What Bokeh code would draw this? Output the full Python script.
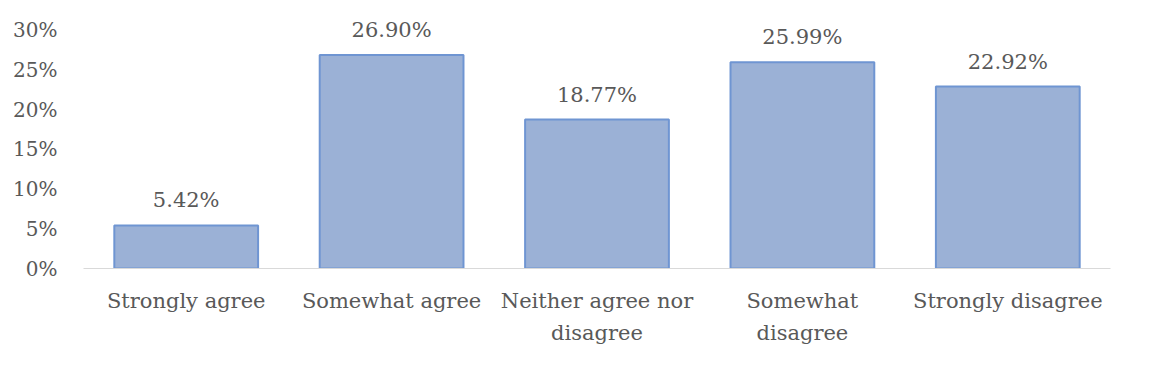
from bokeh.plotting import figure
from bokeh.models import ColumnDataSource, FixedTicker, Range1d
from bokeh.core.properties import value
from bokeh.embed import file_html
from bokeh.resources import INLINE

categories = ["Strongly agree", "Somewhat agree", "Neither agree nor\ndisagree",
              "Somewhat\ndisagree", "Strongly disagree"]
values = [5.42, 26.90, 18.77, 25.99, 22.92]
value_labels = ["5.42%", "26.90%", "18.77%", "25.99%", "22.92%"]
y_ticks = [0, 5, 10, 15, 20, 25, 30]
y_tick_labels = {0: "0%", 5: "5%", 10: "10%", 15: "15%", 20: "20%", 25: "25%", 30: "30%"}

FONT = "DejaVu Serif"
TEXT_COLOR = "#595959"

src = ColumnDataSource(dict(cat=categories, val=values, lab=value_labels))

p = figure(x_range=categories, y_range=Range1d(0, 32), width=1150, height=354,
           output_backend="svg", toolbar_location=None,
           min_border_left=83, min_border_right=40, min_border_top=14, min_border_bottom=86)
p.outline_line_color = None
p.background_fill_color = "white"
p.border_fill_color = "white"

p.vbar(x="cat", top="val", width=0.7, source=src,
       fill_color="#9BB1D6", line_color="#6F95D2", line_width=2)

p.text(x="cat", y="val", text="lab", source=src, text_align="center",
       text_baseline="middle", y_offset=-25,
       text_font=value(FONT), text_font_size="21px", text_color=TEXT_COLOR)

p.xgrid.visible = False
p.ygrid.visible = False

p.yaxis.ticker = FixedTicker(ticks=y_ticks)
p.yaxis.major_label_overrides = y_tick_labels
p.yaxis.axis_line_color = None
p.yaxis.major_tick_line_color = None
p.yaxis.minor_tick_line_color = None
p.yaxis.major_label_standoff = 20
p.yaxis.major_label_text_font = FONT
p.yaxis.major_label_text_font_size = "20px"
p.yaxis.major_label_text_color = TEXT_COLOR

p.xaxis.axis_line_color = "#D9D9D9"
p.xaxis.axis_line_width = 1
p.xaxis.major_tick_line_color = None
p.xaxis.minor_tick_line_color = None
p.xaxis.major_label_standoff = 14
p.xaxis.major_label_text_font = FONT
p.xaxis.major_label_text_font_size = "21px"
p.xaxis.major_label_text_color = TEXT_COLOR
p.xaxis.major_label_text_line_height = 1.36

open("out.html", "w").write(file_html(p, INLINE))
